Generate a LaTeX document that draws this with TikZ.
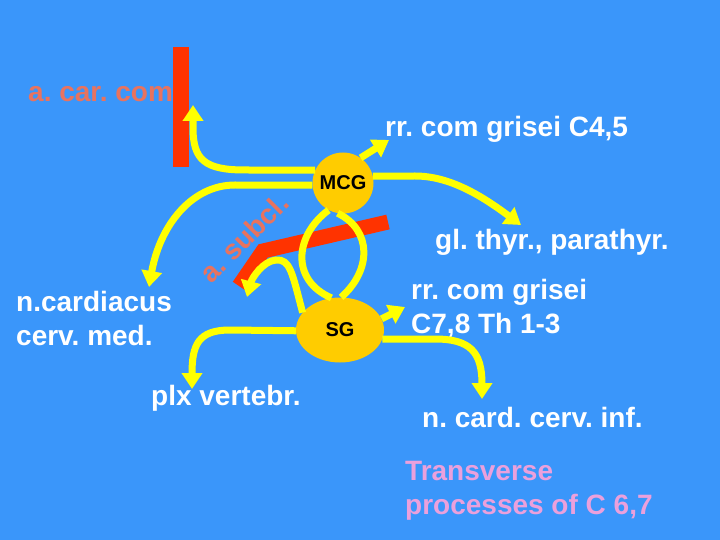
\documentclass[tikz,border=0pt]{standalone}
\usepackage{fontspec}
\setmainfont{Liberation Sans}
\usetikzlibrary{arrows.meta,shapes.geometric}
\definecolor{slideblue}{RGB}{58,150,250}
\definecolor{nerveyellow}{RGB}{255,255,0}
\definecolor{ganglionorange}{RGB}{255,204,0}
\definecolor{arteryred}{RGB}{255,51,0}
\definecolor{salmon}{RGB}{232,115,95}
\definecolor{lilac}{RGB}{235,160,220}
\newcommand\slidefont{\fontsize{28bp}{34bp}\selectfont\bfseries\frenchspacing}
\newcommand\gangfont{\fontsize{20bp}{22bp}\selectfont\bfseries}
\begin{document}
\begin{tikzpicture}[x=1bp, y=-1bp,
    nerve/.style={draw=nerveyellow, line width=7bp, -{Triangle[length=16bp,width=20bp]}},
    nerveloop/.style={draw=nerveyellow, line width=7bp},
    artery/.style={draw=arteryred, line width=15bp, line join=miter},
    lbl/.style={text=white, anchor=base west, inner sep=0pt, align=left, font=\slidefont},
    ganglion/.style={fill=ganglionorange, inner sep=0pt, font=\gangfont}]
    \fill[slideblue] (0, 0) rectangle (720, 540);
    % arteries
    \node[fill=arteryred, minimum width=16bp, minimum height=120bp, inner sep=0pt] (carotis) at (181, 107.5) {};
    \draw[artery] (388, 222) -- (263, 251) -- (239, 286);
    \node[text=salmon, rotate=45, font=\slidefont, inner sep=0pt] (subcl) at (244, 238) {a. subcl.};
    \node[lbl, text=salmon] (carcom) at (28, 102) {a. car. com};
    % ganglia
    \node[ganglion, circle, minimum size=61bp] (MCG) at (343, 183) {MCG};
    \node[ganglion, ellipse, minimum width=88bp, minimum height=65bp] (SG) at (340, 330) {SG};
    % labels (multi-line ones sit on their last baseline)
    \node[lbl] (grisei45) at (385, 137) {rr. com grisei C4,5};
    \node[lbl] (thyr) at (435, 250) {gl. thyr., parathyr.};
    \node[lbl] (cardmed) at (16, 345) {n.cardiacus\\cerv. med.};
    \node[lbl] (grisei78) at (411, 333) {rr. com grisei\\C7,8 Th 1-3};
    \node[lbl] (plx) at (151, 405) {plx vertebr.};
    \node[lbl] (cardinf) at (422, 427) {n. card. cerv. inf.};
    \node[lbl, text=lilac] (transv) at (405, 514) {Transverse\\processes of C 6,7};
    % free ends
    \coordinate (carTip) at (193, 105);
    \coordinate (medTip) at (149, 287);
    \coordinate (g45Tip) at (389, 140);
    \coordinate (thyrTip) at (521, 225);
    \coordinate (subTip) at (247, 297);
    \coordinate (plxTip) at (192, 389);
    \coordinate (g78Tip) at (405, 307);
    \coordinate (infTip) at (482, 399);
    % nerves
    \draw[nerve] (MCG.155) -- (245, 170) .. controls (205, 170) and (193, 160) .. (193, 128) -- (carTip);
    \draw[nerve] (MCG.184) -- (235, 185) .. controls (192, 185) and (160, 225) .. (medTip);
    \draw[nerve] (MCG.55) -- (g45Tip);
    \draw[nerve] (MCG.13) -- (415, 176) .. controls (450, 176) and (482, 196) .. (thyrTip);
    \draw[nerveloop] (MCG.242) .. controls (295, 235) and (290, 280) .. (SG.105);
    \draw[nerveloop] (MCG.260) .. controls (372, 230) and (372, 270) .. (SG.88);
    \draw[nerve] (SG.155) .. controls (292, 272) and (290, 259) .. (276, 260) .. controls (263, 261) and (252, 278) .. (subTip);
    \draw[nerve] (SG.181) -- (230, 330) .. controls (198, 330) and (192, 345) .. (plxTip);
    \draw[nerve] (SG.15) -- (g78Tip);
    \draw[nerve] (SG.348) -- (435, 339) .. controls (470, 339) and (482, 352) .. (infTip);
\end{tikzpicture}
\end{document}
